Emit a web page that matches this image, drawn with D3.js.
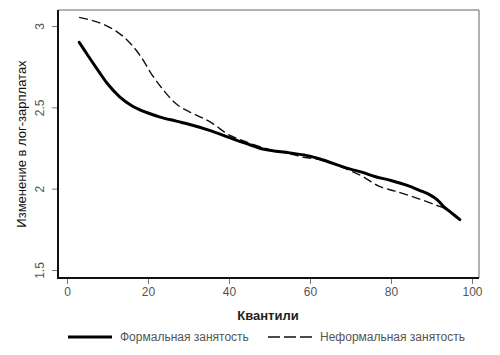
<!DOCTYPE html>
<html><head><meta charset="utf-8">
<script src="https://cdn.jsdelivr.net/npm/d3@7"></script>
<style>body{margin:0;background:#fff}svg{display:block}</style>
</head><body>
<svg id="c" width="500" height="355"></svg>
<script>
const xTicks = [0, 20, 40, 60, 80, 100];
const yTicks = [1.5, 2, 2.5, 3];
const formalQ = [3,5,8,10,13,16,18,20,23,27,31,35,40,44,49,55,60,64,67.5,70,73,76,80,84,87,89.5,91.5,93,95,97];
const formalV = [2.90,2.825,2.715,2.645,2.565,2.51,2.485,2.465,2.44,2.415,2.39,2.36,2.315,2.28,2.24,2.22,2.20,2.17,2.14,2.12,2.10,2.075,2.05,2.02,1.99,1.963,1.93,1.89,1.85,1.81];
const informalQ = [3,6,9,12,15,18,21,24,27,30,33,36,40,44,48,52,55,58,62,66,70,73,77,81,86,91,94,97];
const informalV = [3.053,3.035,3.01,2.97,2.91,2.82,2.70,2.60,2.52,2.475,2.44,2.40,2.33,2.29,2.255,2.23,2.215,2.195,2.18,2.15,2.11,2.075,2.015,1.985,1.945,1.90,1.87,1.81];
const legendLabels = ["Формальная занятость", "Неформальная занятость"];

const svg = d3.select("#c");
const font = "Liberation Sans, Arial, sans-serif";
const x = d3.scaleLinear().domain([0,100]).range([67,472]);
const y = d3.scaleLinear().domain([1.5,3]).range([270,26]);
const L = 58, R = 479, T = 10, B = 278;

svg.append("line").attr("x1",L).attr("x2",R).attr("y1",T).attr("y2",T).attr("stroke","#999").attr("stroke-width",1.5);
svg.append("line").attr("x1",R).attr("x2",R).attr("y1",T).attr("y2",B).attr("stroke","#999").attr("stroke-width",1.5);

const yAxis = svg.append("g").attr("transform",`translate(${L},0)`)
  .call(d3.axisLeft(y).tickValues(yTicks).tickSize(6).tickFormat(d3.format("")));
yAxis.select(".domain").remove();
yAxis.selectAll(".tick line").attr("stroke","#777");
yAxis.selectAll(".tick text").attr("font-family",font).attr("font-size",12).attr("fill","#555")
  .attr("text-anchor","middle").attr("transform","rotate(-90)").attr("x",0).attr("y",-18).attr("dy","0.35em");

const xAxis = svg.append("g").attr("transform",`translate(0,${B})`)
  .call(d3.axisBottom(x).tickValues(xTicks).tickSize(6).tickFormat(d3.format("")));
xAxis.select(".domain").remove();
xAxis.selectAll(".tick line").attr("stroke","#777");
xAxis.selectAll(".tick text").attr("font-family",font).attr("font-size",12).attr("fill","#555").attr("y",9);

svg.append("line").attr("x1",L).attr("x2",L).attr("y1",T).attr("y2",B+1).attr("stroke","#111").attr("stroke-width",2);
svg.append("line").attr("x1",L-1).attr("x2",R).attr("y1",B).attr("y2",B).attr("stroke","#111").attr("stroke-width",2);

svg.append("text").attr("transform","translate(26,144) rotate(-90)").attr("text-anchor","middle")
  .attr("font-family",font).attr("font-size",13).attr("fill","#111").text("Изменение в лог-зарплатах");
svg.append("text").attr("x",268).attr("y",320).attr("text-anchor","middle")
  .attr("font-family",font).attr("font-size",13).attr("font-weight","bold").attr("fill","#222").text("Квантили");

const line = d3.line().x(d=>x(d[0])).y(d=>y(d[1])).curve(d3.curveCatmullRom);
svg.append("path").datum(informalQ.map((q,i)=>[q,informalV[i]])).attr("d",line)
  .attr("fill","none").attr("stroke","#111").attr("stroke-width",1.4).attr("stroke-dasharray","9,4");
svg.append("path").datum(formalQ.map((q,i)=>[q,formalV[i]])).attr("d",line)
  .attr("fill","none").attr("stroke","#000").attr("stroke-width",3).attr("stroke-linecap","round");

svg.append("line").attr("x1",68).attr("x2",112).attr("y1",337).attr("y2",337).attr("stroke","#000").attr("stroke-width",3);
svg.append("text").attr("x",120).attr("y",341).attr("font-family",font).attr("font-size",12).attr("fill","#555").text(legendLabels[0]);
svg.append("line").attr("x1",268).attr("x2",313).attr("y1",337).attr("y2",337).attr("stroke","#111").attr("stroke-width",1.4).attr("stroke-dasharray","12,4");
svg.append("text").attr("x",320).attr("y",341).attr("font-family",font).attr("font-size",12).attr("fill","#555").text(legendLabels[1]);
</script>
</body></html>
